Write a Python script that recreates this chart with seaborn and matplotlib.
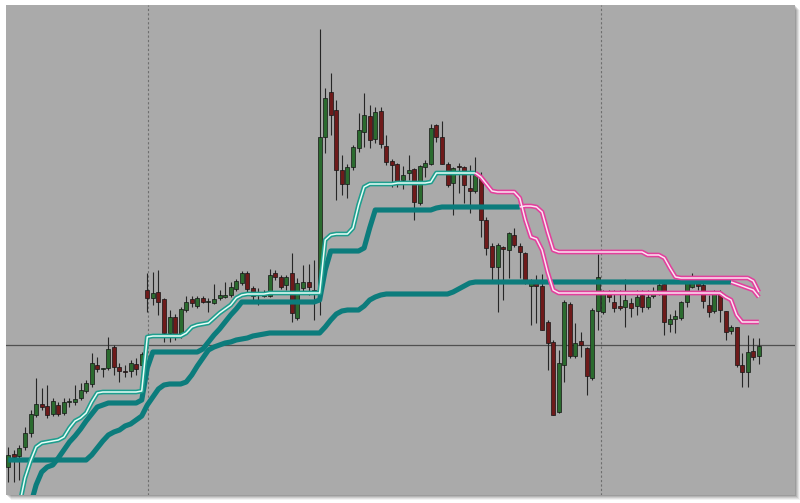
import numpy as np
import pandas as pd
import matplotlib
matplotlib.use("Agg")
import matplotlib.pyplot as plt
import seaborn as sns
from matplotlib.patches import Rectangle

# ---------------- OHLC data (price units) ----------------
opens = [33, 46, 44, 53, 67, 85, 96, 94, 86, 95,
         87, 98, 98, 102, 109, 116, 135, 131, 132, 153,
         133, 129, 129, 136, 135, 210, 202, 208, 201, 167,
         183, 164, 190, 201, 194, 202, 198, 197, 202, 203,
         205, 211, 217, 227, 212, 206, 204, 204, 227, 223,
         215, 227, 182, 212, 218, 210, 207, 363, 408, 390,
         330, 316, 333, 352, 368, 384, 361, 389, 354, 339,
         336, 320, 327, 331, 297, 333, 336, 375, 363, 336,
         317, 334, 333, 312, 309, 323, 280, 254, 233, 253,
         250, 265, 254, 247, 214, 219, 214, 178, 158, 88,
         135, 196, 144, 159, 152, 122, 189, 188, 208, 198,
         194, 193, 197, 194, 205, 193, 204, 207, 216, 176,
         181, 182, 198, 213, 219, 215, 195, 189, 208, 189,
         169, 173, 135, 128, 149, 144]
highs = [53, 50, 55, 73, 90, 122, 112, 115, 102, 98,
         102, 102, 115, 117, 120, 147, 143, 132, 163, 155,
         137, 135, 140, 142, 148, 227, 228, 230, 202, 190,
         186, 193, 204, 204, 204, 204, 202, 216, 210, 218,
         218, 221, 229, 229, 214, 212, 210, 231, 230, 225,
         225, 247, 222, 235, 236, 240, 471, 412, 427, 400,
         345, 336, 355, 387, 407, 395, 393, 393, 365, 341,
         337, 334, 345, 332, 335, 340, 376, 376, 379, 338,
         333, 337, 334, 335, 343, 328, 283, 257, 257, 254,
         268, 272, 257, 248, 221, 225, 226, 180, 160, 150,
         200, 198, 177, 168, 153, 192, 246, 210, 210, 210,
         210, 221, 202, 210, 210, 210, 213, 217, 217, 186,
         190, 199, 220, 227, 224, 217, 205, 210, 210, 189,
         175, 173, 147, 165, 162, 162]
lows = [18, 18, 20, 50, 63, 83, 90, 82, 84, 84,
        85, 93, 95, 100, 107, 113, 128, 123, 130, 125,
        118, 123, 123, 125, 133, 188, 195, 185, 158, 158,
        160, 162, 188, 193, 192, 197, 188, 196, 200, 202,
        203, 209, 215, 208, 198, 195, 203, 203, 220, 211,
        210, 178, 180, 208, 205, 180, 185, 347, 365, 300,
        305, 302, 330, 348, 353, 352, 357, 352, 335, 313,
        313, 311, 320, 280, 295, 323, 335, 358, 336, 313,
        285, 307, 297, 287, 307, 263, 245, 220, 188, 200,
        222, 253, 222, 216, 175, 177, 170, 130, 85, 87,
        118, 142, 142, 143, 105, 120, 170, 186, 198, 188,
        190, 173, 183, 185, 188, 191, 202, 205, 165, 168,
        167, 180, 193, 212, 210, 192, 183, 187, 178, 160,
        166, 133, 113, 113, 140, 136]
closes = [45, 43, 52, 67, 86, 96, 93, 85, 99, 86,
          98, 99, 101, 110, 117, 137, 131, 132, 151, 133,
          129, 128, 137, 131, 146, 202, 207, 198, 167, 183,
          163, 191, 198, 197, 202, 198, 199, 201, 205, 205,
          213, 219, 227, 211, 204, 205, 207, 225, 223, 213,
          223, 187, 217, 218, 213, 207, 363, 402, 385, 330,
          316, 333, 353, 370, 385, 360, 388, 356, 338, 335,
          318, 325, 330, 298, 334, 337, 372, 363, 336, 315,
          332, 333, 315, 309, 325, 280, 252, 233, 255, 251,
          267, 255, 248, 218, 220, 214, 170, 157, 85, 137,
          198, 144, 157, 155, 124, 190, 223, 208, 203, 192,
          192, 200, 192, 203, 193, 203, 208, 215, 178, 181,
          184, 198, 218, 218, 214, 199, 188, 208, 190, 168,
          173, 135, 128, 148, 143, 154]

# ---------------- trailing-stop indicator lines ----------------
# fast stop (double line), uptrend part then downtrend part
stopA_up_start = 2
stopA_up = [-5, 22, 39, 53, 57, 58, 59, 60, 63, 72,
            79, 82, 87, 98, 107, 108, 108, 108, 108, 108,
            108, 108, 109, 163, 164, 164, 164, 164, 164, 164,
            167, 173, 175, 176, 177, 182, 187, 191, 195, 202,
            205, 206, 206, 206, 206, 207, 207, 207, 207, 207,
            207, 207, 207, 207, 207, 260, 265, 266, 266, 266,
            272, 295, 313, 316, 316, 316, 316, 316, 317, 317,
            317, 317, 317, 317, 318, 327, 327, 327, 327, 327,
            327, 327, 327]
stopA_dn_start = 84
stopA_dn = [327, 323, 316, 309, 308, 308, 308, 308, 302, 280,
            263, 261, 250, 228, 210, 207, 207, 207, 207, 207,
            207, 207, 207, 207, 207, 207, 207, 207, 207, 207,
            207, 207, 207, 207, 207, 207, 207, 207, 207, 207,
            207, 207, 207, 207, 207, 203, 200, 185, 178, 178,
            178, 178]
# medium stop (thick line up, double line down)
stopB_up_start = 4
stopB_up = [-5, 15, 28, 33, 35, 42, 50, 58, 64, 71,
            79, 86, 93, 95, 97, 97, 97, 97, 97, 97,
            100, 132, 148, 148, 148, 148, 148, 148, 148, 148,
            148, 151, 158, 165, 171, 178, 185, 191, 198, 198,
            198, 198, 198, 198, 198, 198, 198, 198, 198, 198,
            198, 198, 200, 230, 249, 249, 249, 249, 249, 249,
            252, 272, 290, 290, 290, 290, 290, 290, 290, 290,
            290, 290, 290, 292, 293, 293, 293, 293, 293, 293,
            293, 293, 293, 293, 293, 293, 293, 293, 293]
stopB_dn_start = 92
stopB_dn = [293, 294, 294, 293, 288, 268, 250, 248, 248, 248,
            248, 248, 248, 248, 248, 248, 248, 248, 248, 248,
            248, 248, 248, 245, 245, 245, 242, 232, 223, 222,
            222, 222, 222, 222, 222, 222, 222, 222, 222, 222,
            222, 222, 219, 208]
# slow stop (thick line up, double line down)
stopC_up_start = 0
stopC_up = [40, 40, 40, 40, 40, 40, 40, 40, 40, 40,
            40, 40, 40, 40, 40, 45, 52, 59, 65, 68,
            70, 74, 76, 80, 84, 95, 103, 111, 115, 116,
            116, 116, 118, 125, 134, 142, 150, 153, 155, 157,
            158, 160, 161, 162, 164, 165, 166, 167, 167, 167,
            167, 167, 167, 167, 167, 167, 167, 173, 180, 186,
            189, 190, 190, 190, 194, 200, 203, 205, 206, 206,
            206, 206, 206, 206, 206, 206, 206, 206, 206, 206,
            208, 211, 214, 217, 218, 218, 218, 218, 218, 218,
            218, 218, 218, 218, 218, 218, 218, 218, 218, 218,
            218, 218, 218, 218, 218, 218, 218, 218, 218, 218,
            218, 218, 218, 218, 218, 218, 218, 218, 218, 218,
            218, 218, 218, 218, 218, 218, 218, 218, 218, 218,
            218]
stopC_dn_start = 130
stopC_dn = [218, 216, 214, 212, 210, 203]

level_line = 155            # horizontal price line
session_breaks = [25.1, 106.6]   # vertical dotted separators (bar units)

# ---------------- styling ----------------
BG = '#AAAAAA'
BULL = '#2B6B2F'
BEAR = '#6E1A1A'
WICK = '#262626'
TEAL_THICK = '#0C7C7C'
TEAL_OUT = '#1E9E8E'
TEAL_IN = '#E8FFF8'
PINK_OUT = '#E2409C'
PINK_IN = '#FBE4F2'

W, H = 800, 503
fig = plt.figure(figsize=(W / 100, H / 100), dpi=100)
fig.patch.set_facecolor('white')

# soft drop shadow of the chart panel (drawn behind the axes)
ax_l, ax_b, ax_w, ax_h = 6, H - 495, 789, 490
for k, a in zip([5, 4, 3, 2, 1], [0.05, 0.07, 0.09, 0.11, 0.13]):
    fig.patches.append(Rectangle(((ax_l + k) / W, (ax_b - k) / H), ax_w / W, ax_h / H,
                                 transform=fig.transFigure, facecolor='black',
                                 edgecolor='none', alpha=a, zorder=-5))

ax = fig.add_axes([ax_l / W, ax_b / H, ax_w / W, ax_h / H])
ax.set_zorder(5)
ax.set_facecolor(BG)
for s in ax.spines.values():
    s.set_visible(False)

df = pd.DataFrame({'bar': np.arange(len(opens)), 'open': opens, 'high': highs,
                   'low': lows, 'close': closes})
up = df['close'] >= df['open']

# separators and level line
for xb in session_breaks:
    ax.axvline(xb, color='#6E6E6E', lw=0.8, ls=(0, (2, 2)), zorder=1)
ax.axhline(level_line, color='#505050', lw=0.9, zorder=1)

# candles
ax.vlines(df['bar'], df['low'], df['high'], color=WICK, lw=0.8, zorder=2)
body_w = 0.72
ax.bar(df['bar'][up], (df['close'] - df['open'])[up].clip(lower=1), bottom=df['open'][up],
       width=body_w, color=BULL, edgecolor='#141414', linewidth=0.5, zorder=3)
ax.bar(df['bar'][~up], (df['open'] - df['close'])[~up].clip(lower=1), bottom=df['close'][~up],
       width=body_w, color=BEAR, edgecolor='#141414', linewidth=0.5, zorder=3)


def seg(start, vals):
    return np.arange(start, start + len(vals)), np.array(vals, dtype=float)


def thick(start, vals, z=5):
    x, y = seg(start, vals)
    sns.lineplot(x=x, y=y, ax=ax, color=TEAL_THICK, linewidth=3.7, errorbar=None,
                 solid_joinstyle='round', solid_capstyle='butt', zorder=z, legend=False)


def double(start, vals, outer, inner, z=6):
    x, y = seg(start, vals)
    sns.lineplot(x=x, y=y, ax=ax, color=outer, linewidth=3.4, errorbar=None,
                 solid_joinstyle='round', solid_capstyle='butt', zorder=z, legend=False)
    sns.lineplot(x=x, y=y, ax=ax, color=inner, linewidth=1.1, errorbar=None,
                 solid_joinstyle='round', solid_capstyle='butt', zorder=z + 0.5, legend=False)


thick(stopC_up_start, stopC_up)
thick(stopB_up_start, stopB_up)
double(stopA_up_start, stopA_up, TEAL_OUT, TEAL_IN)
double(stopA_dn_start, stopA_dn, PINK_OUT, PINK_IN)
double(stopB_dn_start, stopB_dn, PINK_OUT, PINK_IN)
double(stopC_dn_start, stopC_dn, PINK_OUT, PINK_IN)

ax.set_xlim(-0.414, 141.5)
ax.set_ylim(5, 495)
ax.set_xticks([])
ax.set_yticks([])
ax.set_xlabel('')
ax.set_ylabel('')

fig.savefig('out.png', dpi=100, facecolor='white')
